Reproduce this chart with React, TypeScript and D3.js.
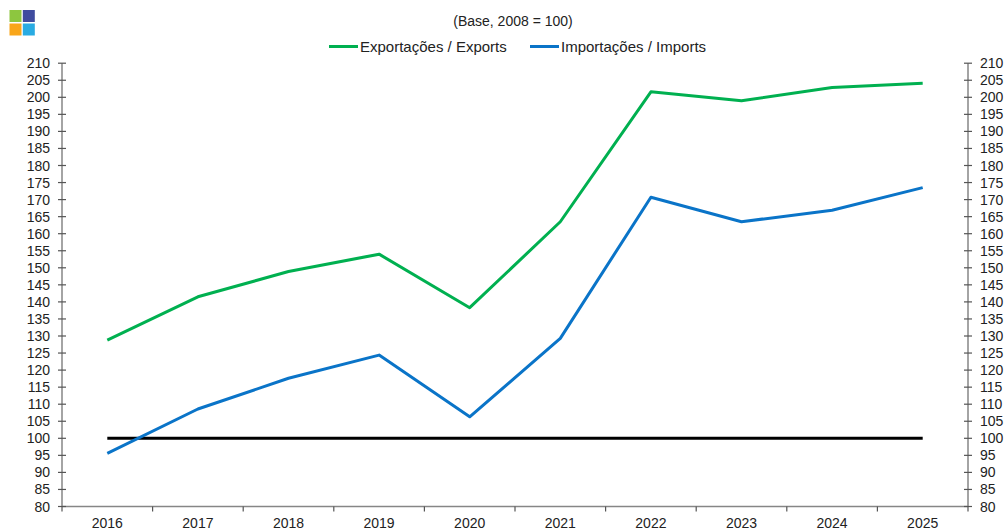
import React from "react";
import * as d3 from "d3";

const years = ["2016", "2017", "2018", "2019", "2020", "2021", "2022", "2023", "2024", "2025"];
const exportsIdx = [128.8, 141.5, 148.9, 154.0, 138.3, 163.5, 201.6, 199.0, 202.9, 204.1];
const importsIdx = [95.6, 108.6, 117.6, 124.4, 106.3, 129.3, 170.7, 163.5, 166.9, 173.5];
const baseLine = [100, 100, 100, 100, 100, 100, 100, 100, 100, 100];
const yTicks = d3.range(80, 211, 5);
const subtitle = "(Base, 2008 = 100)";
const legendLabels = ["Exportações / Exports", "Importações / Imports"];

const W = 1008;
const H = 531;
const left = 62;
const right = 968;
const top = 63.2;
const bottom = 506.5;
const GREEN = "#00B050";
const BLUE = "#0A74C8";
const AXIS = "#868686";
const FONT = "'Liberation Sans', Arial, sans-serif";

export default function App() {
  const x = d3.scaleBand<string>().domain(years).range([left, right]).padding(0);
  const y = d3.scaleLinear().domain([80, 210]).range([bottom, top]);
  const cx = (d: string) => (x(d) as number) + x.bandwidth() / 2;
  const line = d3
    .line<number>()
    .x((_, i) => cx(years[i]))
    .y((v) => y(v));

  const boundaries = years.map((d) => x(d) as number).concat([right]);

  return (
    <svg
      width={W}
      height={H}
      style={{ position: "absolute", left: 0, top: 0, background: "#fff" }}
      fontFamily={FONT}
    >
      {/* logo */}
      <rect x={9.5} y={10} width={12} height={12} fill="#8DC63F" />
      <rect x={22.8} y={10} width={12} height={12} fill="#3F4C9F" />
      <rect x={9.5} y={23.5} width={12} height={12} fill="#F9A61A" />
      <rect x={22.8} y={23.5} width={12} height={12} fill="#29ABE2" />

      <text x={513} y={26} textAnchor="middle" fontSize={14} fill="#222">
        {subtitle}
      </text>

      {/* legend */}
      <line x1={329} x2={358} y1={46.5} y2={46.5} stroke={GREEN} strokeWidth={3} />
      <text x={360} y={52} fontSize={15} fill="#222">{legendLabels[0]}</text>
      <line x1={530} x2={559} y1={46.5} y2={46.5} stroke={BLUE} strokeWidth={3} />
      <text x={561} y={52} fontSize={15} fill="#222">{legendLabels[1]}</text>

      {/* axes */}
      <line x1={left} x2={left} y1={top} y2={bottom} stroke={AXIS} strokeWidth={1.5} />
      <line x1={right} x2={right} y1={top} y2={bottom} stroke={AXIS} strokeWidth={1.5} />
      <line x1={left} x2={right} y1={bottom} y2={bottom} stroke={AXIS} strokeWidth={1.5} />
      {yTicks.map((t) => (
        <g key={t}>
          <line x1={left - 4} x2={left + 4} y1={y(t)} y2={y(t)} stroke="#555" strokeWidth={1.2} />
          <line x1={right - 4} x2={right + 4} y1={y(t)} y2={y(t)} stroke="#555" strokeWidth={1.2} />
          <text x={50} y={y(t)} dy="0.36em" textAnchor="end" fontSize={14} fill="#222">
            {t}
          </text>
          <text x={980} y={y(t)} dy="0.36em" textAnchor="start" fontSize={14} fill="#222">
            {t}
          </text>
        </g>
      ))}
      {boundaries.map((b, i) => (
        <line key={i} x1={b} x2={b} y1={bottom} y2={bottom + 5} stroke="#555" strokeWidth={1.2} />
      ))}
      {years.map((yr) => (
        <text key={yr} x={cx(yr)} y={528} textAnchor="middle" fontSize={14} fill="#222">
          {yr}
        </text>
      ))}

      {/* series */}
      <path d={line(baseLine) || ""} fill="none" stroke="#000" strokeWidth={3} />
      <path d={line(exportsIdx) || ""} fill="none" stroke={GREEN} strokeWidth={3} strokeLinejoin="round" />
      <path d={line(importsIdx) || ""} fill="none" stroke={BLUE} strokeWidth={3} strokeLinejoin="round" />
    </svg>
  );
}
